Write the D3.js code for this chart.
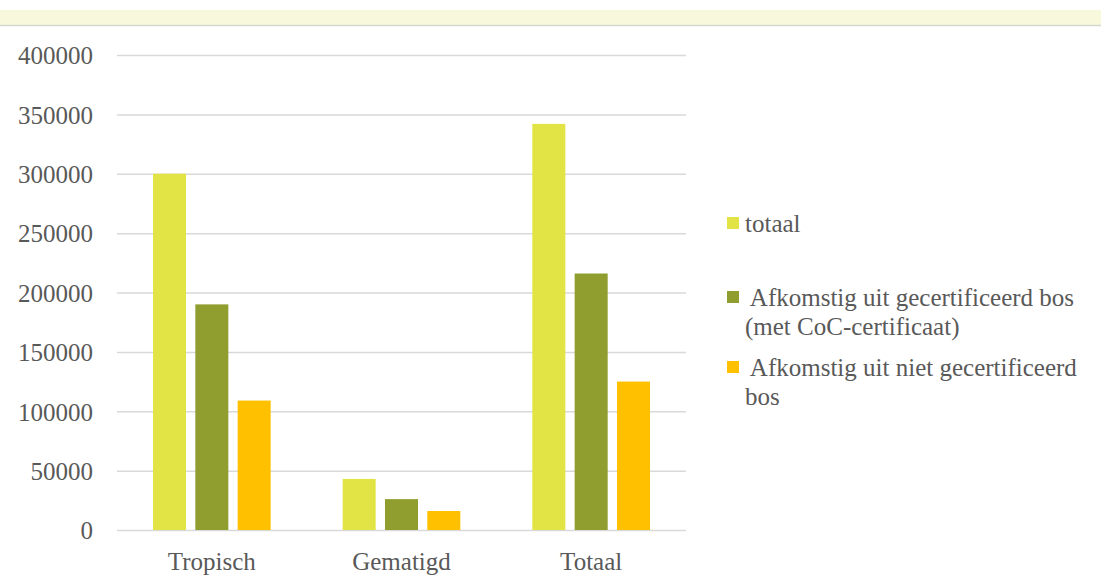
<!DOCTYPE html>
<meta charset="utf-8">
<script src="https://d3js.org/d3.v7.min.js"></script>
<style>
  body { margin: 0; background: #fff; font-family: "Liberation Serif", serif; }
</style>
<div id="my_dataviz"></div>
<script>
// data
var groups = ["Tropisch", "Gematigd", "Totaal"];
var seriesNames = ["totaal", "Afkomstig uit gecertificeerd bos (met CoC-certificaat)", "Afkomstig uit niet gecertificeerd bos"];
var totaal = [300000, 43000, 342000];
var gecertificeerd = [190000, 26000, 216000];
var nietGecertificeerd = [109000, 16000, 125000];
var yTicks = [0, 50000, 100000, 150000, 200000, 250000, 300000, 350000, 400000];
var colors = ["#e1e444", "#8f9e2f", "#ffc000"];
var legendLines = [["totaal"], [" Afkomstig uit gecertificeerd bos", "(met CoC-certificaat)"], [" Afkomstig uit niet gecertificeerd", "bos"]];

var W = 1101, H = 585;
var margin = {top: 55, left: 117, right: 415, bottom: 55};
var width = W - margin.left - margin.right,
    height = H - margin.top - margin.bottom;

var svg = d3.select("#my_dataviz").append("svg")
  .attr("width", W).attr("height", H);

// header band
svg.append("rect").attr("x", 0).attr("y", 10).attr("width", W).attr("height", 15).attr("fill", "#f7f8dc");
svg.append("line").attr("x1", 0).attr("x2", W).attr("y1", 25.5).attr("y2", 25.5).attr("stroke", "#d6d6cc").attr("stroke-width", 1.5);

var g = svg.append("g").attr("transform", "translate(" + margin.left + "," + margin.top + ")");

var x0 = d3.scaleBand().domain(groups).range([0, width]).paddingInner(0).paddingOuter(0);
var x1 = d3.scaleBand().domain([0, 1, 2]).range([36, x0.bandwidth() - 36]).paddingInner(0.22).paddingOuter(0);
var y = d3.scaleLinear().domain([0, 400000]).range([height, 0]);

// gridlines + y labels
var yAxis = g.append("g")
  .call(d3.axisLeft(y).tickValues(yTicks).tickSize(-width).tickPadding(24).tickFormat(d3.format("d")));
yAxis.select(".domain").remove();
yAxis.selectAll(".tick line").attr("stroke", "#d9d9d9").attr("stroke-width", 1.5);
yAxis.selectAll(".tick text").attr("fill", "#595959").style("font-size", "25px").style("font-family", "Liberation Serif, serif").attr("dy", "0.35em");

// bars
var data = [totaal, gecertificeerd, nietGecertificeerd];
data.forEach(function(vals, si) {
  g.selectAll(".bar" + si)
    .data(vals)
    .enter().append("rect")
    .attr("x", function(d, i) { return x0(groups[i]) + x1(si); })
    .attr("y", function(d) { return y(d); })
    .attr("width", x1.bandwidth())
    .attr("height", function(d) { return height - y(d); })
    .attr("fill", colors[si]);
});

// x labels
var xAxis = g.append("g").attr("transform", "translate(0," + height + ")")
  .call(d3.axisBottom(x0).tickSize(0).tickPadding(22));
xAxis.select(".domain").remove();
xAxis.selectAll(".tick text").attr("fill", "#595959").style("font-size", "25px").style("font-family", "Liberation Serif, serif");

// legend
var legendY = [223, 297, 367];
var legend = svg.append("g");
legendLines.forEach(function(lines, i) {
  legend.append("rect").attr("x", 727).attr("y", legendY[i] - 6).attr("width", 12).attr("height", 12).attr("fill", colors[i]);
  lines.forEach(function(t, j) {
    legend.append("text")
      .attr("x", 745).attr("y", legendY[i] + j * 29)
      .attr("dy", "0.35em")
      .attr("fill", "#595959")
      .style("font-size", "25px")
      .style("white-space", "pre")
      .attr("xml:space", "preserve")
      .text(t);
  });
});
</script>
